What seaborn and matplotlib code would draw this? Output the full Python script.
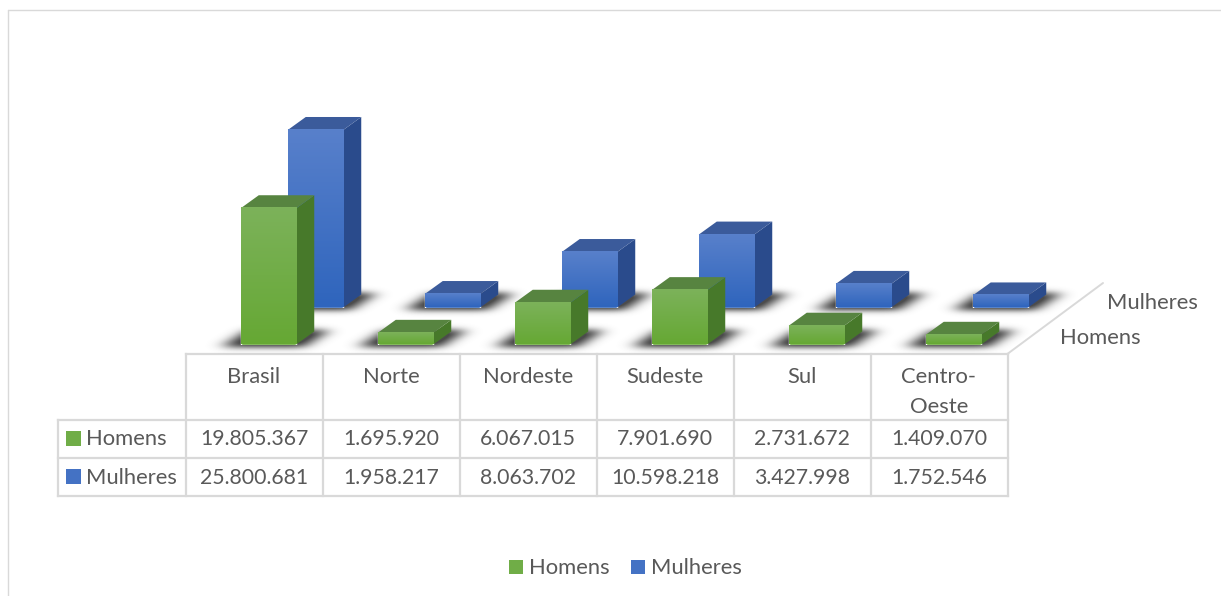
# -*- coding: utf-8 -*-
import numpy as np
import pandas as pd
import seaborn as sns
import matplotlib
matplotlib.use('Agg')
import matplotlib.pyplot as plt
from matplotlib.colors import to_rgb
from matplotlib.patches import Polygon
from matplotlib.path import Path
from matplotlib.transforms import IdentityTransform

# dados
regioes = ['Brasil', 'Norte', 'Nordeste', 'Sudeste', 'Sul', 'Centro-\nOeste']
homens = [19805367, 1695920, 6067015, 7901690, 2731672, 1409070]
mulheres = [25800681, 1958217, 8063702, 10598218, 3427998, 1752546]

W, H = 1221, 596
PX_POR_UNIDADE = 6.88e-6
COL = 137
DX, DY = 18, 13
COR_TEXTO = '#595959'
COR_LINHA = '#d9d9d9'

VERDE = {'topo': '#7cb25a', 'base': '#66a834', 'lado': '#47792a', 'tampa': '#578440'}
AZUL = {'topo': '#5880cb', 'base': '#2f65bd', 'lado': '#2a4b8c', 'tampa': '#3b5b9b'}

sns.set_theme(style='white')
plt.rcParams['font.family'] = ['Lato', 'DejaVu Sans']

fig = plt.figure(figsize=(W / 100, H / 100), dpi=100)

# camada de fundo: moldura e tabela, em pixels
fundo = fig.add_axes([0, 0, 1, 1], zorder=0)
fundo.set_xlim(0, W)
fundo.set_ylim(H, 0)
fundo.axis('off')
fundo.patch.set_alpha(0)


def eixo_barras(x_centro, y_base, z):
    esq = x_centro - COL / 2
    altura = 250
    ax = fig.add_axes([esq / W, (H - y_base) / H, COL * 6 / W, altura / H], zorder=z)
    ax.patch.set_alpha(0)
    return ax, altura


def desenhar(ax, altura, dados, cores):
    sns.barplot(data=dados, x='regiao', y='populacao', color=cores['base'],
                width=0.405, saturation=1, ax=ax, errorbar=None)
    ax.set_xlim(-0.5, 5.5)
    ax.set_ylim(0, altura / PX_POR_UNIDADE)
    ax.axis('off')
    pegadas = []
    for barra in list(ax.patches):
        x0, x1 = barra.get_x(), barra.get_x() + barra.get_width()
        h = barra.get_height()
        (a, b), (c, d) = ax.transData.transform([(x0, 0), (x1, h)])
        # gradiente da face da frente
        g = np.linspace(0, 1, 64)[:, None, None]
        img = (1 - g) * np.array(to_rgb(cores['topo'])) + g * np.array(to_rgb(cores['base']))
        ax.imshow(img, extent=(x0, x1, 0, h), aspect='auto', zorder=3, origin='upper')
        lado = Polygon([(c, b), (c + DX, b + DY), (c + DX, d + DY), (c, d)],
                       closed=True, fc=cores['lado'], ec='none',
                       transform=IdentityTransform(), clip_on=False, zorder=2)
        tampa = Polygon([(a, d), (c, d), (c + DX, d + DY), (a + DX, d + DY)],
                        closed=True, fc=cores['tampa'], ec='none',
                        transform=IdentityTransform(), clip_on=False, zorder=2)
        ax.add_patch(lado)
        ax.add_patch(tampa)
        pegadas.append((a, b, c, d))
    ax.set_xlim(-0.5, 5.5)
    ax.set_ylim(0, altura / PX_POR_UNIDADE)
    return pegadas


df = pd.DataFrame({'regiao': regioes * 2,
                   'populacao': homens + mulheres,
                   'sexo': ['Homens'] * 6 + ['Mulheres'] * 6})

ax_m, alt_m = eixo_barras(268.5 + 47, 307.5, 2)
ax_h, alt_h = eixo_barras(268.5, 344.5, 3)
pegadas = desenhar(ax_m, alt_m, df[df['sexo'] == 'Mulheres'], AZUL)
pegadas += desenhar(ax_h, alt_h, df[df['sexo'] == 'Homens'], VERDE)

# sombra desfocada no piso
yy, xx = np.mgrid[0:H, 0:W]
grade = np.column_stack([xx.ravel() + 0.5, yy.ravel() + 0.5])
sombra = np.zeros((H, W))
for a, b, c, d in pegadas:
    base = H - b
    forma = Path([(a - 18, base + 2), (c + 8, base + 2), (c + DX + 16, base - DY - 2), (a + 8, base - DY - 2)])
    sombra[forma.contains_points(grade).reshape(H, W)] = 1
# desfoque mais largo na horizontal, como no original
nucleo_v = np.exp(-0.5 * (np.arange(-12, 13) / 3.0) ** 2)
nucleo_v /= nucleo_v.sum()
nucleo_h = np.exp(-0.5 * (np.arange(-24, 25) / 8.0) ** 2)
nucleo_h /= nucleo_h.sum()
sombra = np.apply_along_axis(lambda v: np.convolve(v, nucleo_v, mode='same'), 0, sombra)
sombra = np.apply_along_axis(lambda v: np.convolve(v, nucleo_h, mode='same'), 1, sombra)
rgba = np.zeros((H, W, 4))
rgba[..., :3] = 0.22
rgba[..., 3] = np.clip(sombra * 1.1, 0, 0.9)
fig.figimage(rgba, 0, 0, origin='upper', zorder=1)

# moldura
fundo.plot([8, W], [10, 10], color=COR_LINHA, lw=1)
fundo.plot([8, 8], [10, H], color=COR_LINHA, lw=1)

# tabela
x_col = [186 + COL * i for i in range(7)]
esq_tab, y_topo = 58, 353.5
y_linhas = [420, 458, 496]
kw = dict(color=COR_LINHA, lw=1.6, solid_capstyle='projecting')
fundo.plot([x_col[0], x_col[-1]], [y_topo, y_topo], **kw)
for y in y_linhas:
    fundo.plot([esq_tab, x_col[-1]], [y, y], **kw)
for x in x_col:
    fundo.plot([x, x], [y_topo, y_linhas[-1]], **kw)
fundo.plot([esq_tab, esq_tab], [y_linhas[0], y_linhas[-1]], **kw)
fundo.plot([x_col[-1], 1103], [y_topo, 283], color=COR_LINHA, lw=1.4)

txt = dict(color=COR_TEXTO, fontsize=15.8, va='center')
num = dict(color=COR_TEXTO, fontsize=15.3, va='center')
for i, nome in enumerate(regioes):
    fundo.text(x_col[i] + COL / 2 - 0.5, 392 if '\n' in nome else 377, nome, ha='center',
               linespacing=1.6, **txt)
for i in range(6):
    cx = x_col[i] + COL / 2 - 0.5
    fundo.text(cx, 439, f'{homens[i]:,}'.replace(',', '.'), ha='center', **num)
    fundo.text(cx, 478, f'{mulheres[i]:,}'.replace(',', '.'), ha='center', **num)

fundo.text(86, 439, 'Homens', ha='left', **txt)
fundo.text(86, 478, 'Mulheres', ha='left', **txt)
fundo.add_patch(plt.Rectangle((66, 431), 15, 15, fc='#70ad47', ec='none'))
fundo.add_patch(plt.Rectangle((66, 469), 15, 15, fc='#4472c4', ec='none'))

# nomes da profundidade
fundo.text(1107, 303, 'Mulheres', ha='left', **txt)
fundo.text(1060, 338, 'Homens', ha='left', **txt)

# legenda
fundo.add_patch(plt.Rectangle((509, 560), 14, 14, fc='#70ad47', ec='none'))
fundo.add_patch(plt.Rectangle((631, 560), 14, 14, fc='#4472c4', ec='none'))
fundo.text(529, 568, 'Homens', ha='left', **txt)
fundo.text(651, 568, 'Mulheres', ha='left', **txt)

fig.savefig('out.png', facecolor='white')
